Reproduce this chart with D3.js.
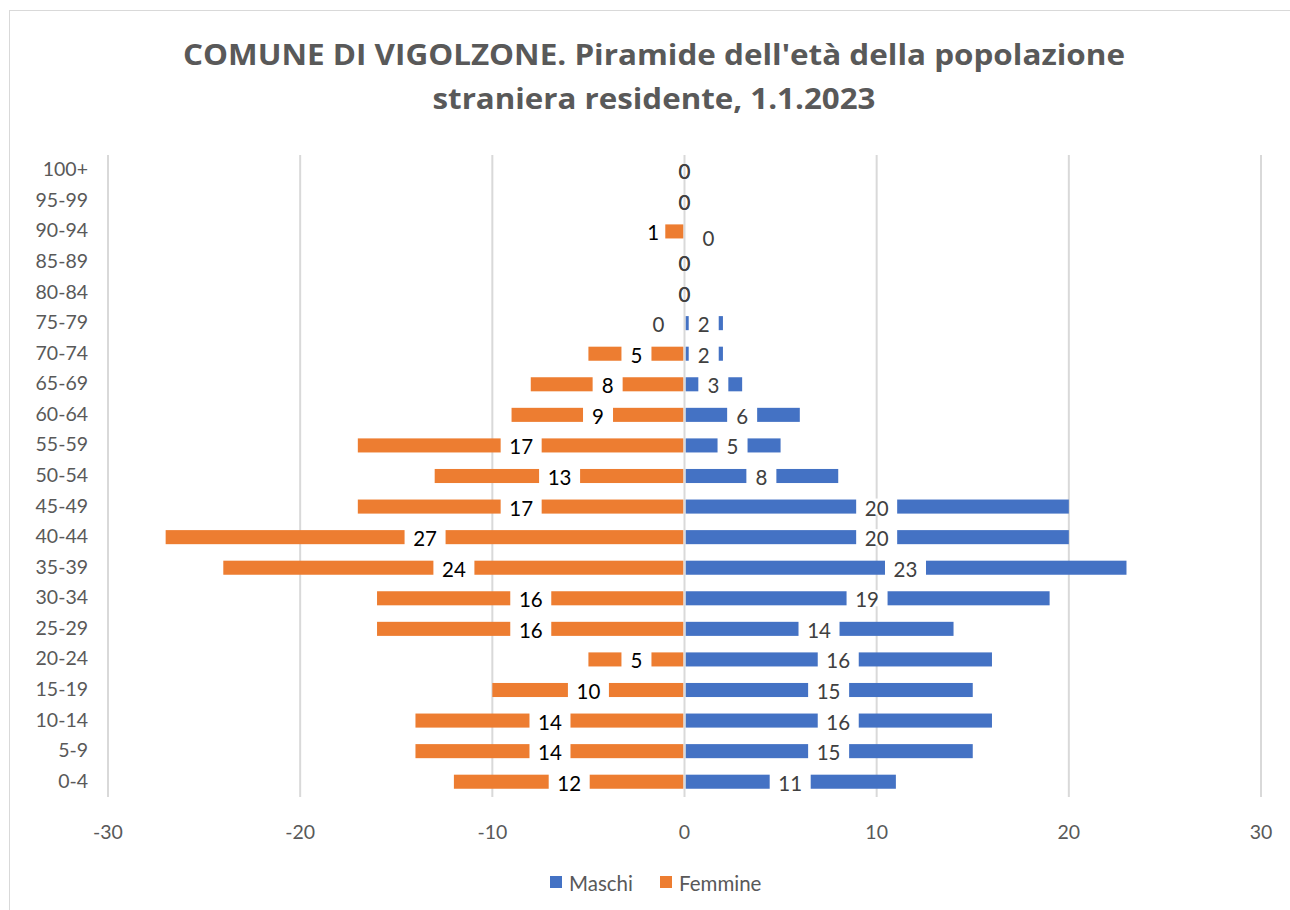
<!DOCTYPE html>
<html>
<head>
<meta charset="utf-8">
<script src="https://cdn.jsdelivr.net/npm/d3@7"></script>
<style>
  html, body { margin: 0; padding: 0; background: #fff; }
  svg { display: block; font-family: Lato, "Open Sans", sans-serif; }
</style>
</head>
<body>
<svg id="chart" width="1290" height="910"></svg>
<script>
const ageGroups = ['0-4', '5-9', '10-14', '15-19', '20-24', '25-29', '30-34', '35-39', '40-44', '45-49',
  '50-54', '55-59', '60-64', '65-69', '70-74', '75-79', '80-84', '85-89', '90-94', '95-99', '100+'];
const maschi  = [11, 15, 16, 15, 16, 14, 19, 23, 20, 20, 8, 5, 6, 3, 2, 2, 0, 0, 0, 0, 0];
const femmine = [12, 14, 14, 10, 5, 16, 16, 24, 27, 17, 13, 17, 9, 8, 5, 0, 0, 0, 1, 0, 0];
const xTicks = [-30, -20, -10, 0, 10, 20, 30];
const titleLines = ["COMUNE DI VIGOLZONE. Piramide dell'età della popolazione", 'straniera residente, 1.1.2023'];
const titleWidths = [942, 443];

const BLUE = '#4472C4', ORANGE = '#ED7D31', GRID = '#D9D9D9', TEXT = '#595959';

const svg = d3.select('#chart');

// chart border
svg.append('rect').attr('x', 9.5).attr('y', 10.5).attr('width', 1300).attr('height', 920)
  .attr('fill', 'none').attr('stroke', GRID);

svg.append('g').selectAll('text').data(titleLines).enter().append('text')
  .attr('x', 654).attr('y', (d, i) => 58 + i * 44).attr('text-anchor', 'middle').attr('dominant-baseline', 'middle')
  .attr('font-family', '"Open Sans", Lato, sans-serif')
  .attr('font-size', 28).attr('font-weight', 'bold').attr('fill', TEXT)
  .attr('textLength', (d, i) => titleWidths[i]).attr('lengthAdjust', 'spacingAndGlyphs')
  .text(d => d);

const x = d3.scaleLinear().domain([-30, 30]).range([108, 1261]);
const y = d3.scaleBand().domain(ageGroups).range([797, 155]);
const barH = y.bandwidth() * 0.46;
const cy = g => y(g) + y.bandwidth() / 2;

// gridlines
svg.append('g').selectAll('line').data(xTicks.filter(t => t !== 0)).enter().append('line')
  .attr('x1', d => x(d)).attr('x2', d => x(d)).attr('y1', 155).attr('y2', 797)
  .attr('stroke', GRID).attr('stroke-width', 2);

// x tick labels
svg.append('g').selectAll('text').data(xTicks).enter().append('text')
  .attr('x', d => x(d)).attr('y', 834).attr('text-anchor', 'middle').attr('dominant-baseline', 'middle')
  .attr('font-size', 19.5).attr('fill', TEXT).text(d => d);

// category labels
svg.append('g').selectAll('text').data(ageGroups).enter().append('text')
  .attr('x', 88).attr('y', d => cy(d) + 1).attr('text-anchor', 'end').attr('dominant-baseline', 'middle')
  .attr('font-size', 19.5).attr('fill', TEXT).text(d => d);

const rows = ageGroups.map((g, i) => ({ g, m: maschi[i], f: femmine[i] }));

// bars
svg.append('g').selectAll('rect').data(rows).enter().append('rect')
  .attr('x', d => x(-d.f)).attr('y', d => cy(d.g) - barH / 2)
  .attr('width', d => Math.max(0, x(0) - x(-d.f) - 1)).attr('height', barH).attr('fill', ORANGE);
svg.append('g').selectAll('rect').data(rows).enter().append('rect')
  .attr('x', x(0) + 1).attr('y', d => cy(d.g) - barH / 2)
  .attr('width', d => Math.max(0, x(d.m) - x(0) - 1)).attr('height', barH).attr('fill', BLUE);

// category axis line at zero
svg.append('line').attr('x1', x(0)).attr('x2', x(0)).attr('y1', 155).attr('y2', 797)
  .attr('stroke', GRID).attr('stroke-width', 2);

// data labels, centred in the bar on a white box; nudged aside when they would collide
function labelPos(d, side) {
  const v = side === 'm' ? d.m : -d.f;
  let lx = x(v / 2), ly = cy(d.g);
  if (d.m === 0 && d.f > 0) {
    if (side === 'f') lx = x(-d.f) - 12; else { lx = x(0) + 24; ly += 6; }
  } else if (d.f === 0 && d.m > 0 && side === 'f') {
    lx = x(0) - 26;
  }
  return [lx, ly];
}

['f', 'm'].forEach(side => {
  const g = svg.append('g').selectAll('g').data(rows).enter().append('g')
    .attr('transform', d => `translate(${labelPos(d, side)})`);
  g.filter(d => d[side] > 0 && !(side === 'f' && d.m === 0)).append('rect')
    .attr('x', d => -(String(d[side]).length * 11 + 19) / 2).attr('y', -barH / 2 - 1)
    .attr('width', d => String(d[side]).length * 11 + 19).attr('height', barH + 2).attr('fill', '#fff');
  g.append('text').attr('text-anchor', 'middle').attr('dominant-baseline', 'central').attr('dy', 1)
    .attr('font-size', 20.5)
    .attr('fill', d => side === 'f' && d.f > 0 ? '#000' : '#404040')
    .text(d => d[side]);
});

// legend
const legend = [{ name: 'Maschi', c: BLUE, x: 550 }, { name: 'Femmine', c: ORANGE, x: 660 }];
const lg = svg.append('g').selectAll('g').data(legend).enter().append('g')
  .attr('transform', d => `translate(${d.x},882)`);
lg.append('rect').attr('x', 0).attr('y', -6).attr('width', 12).attr('height', 12).attr('fill', d => d.c);
lg.append('text').attr('x', 19).attr('dominant-baseline', 'central').attr('dy', 1)
  .attr('font-size', 20.5).attr('fill', TEXT).text(d => d.name);
</script>
</body>
</html>
